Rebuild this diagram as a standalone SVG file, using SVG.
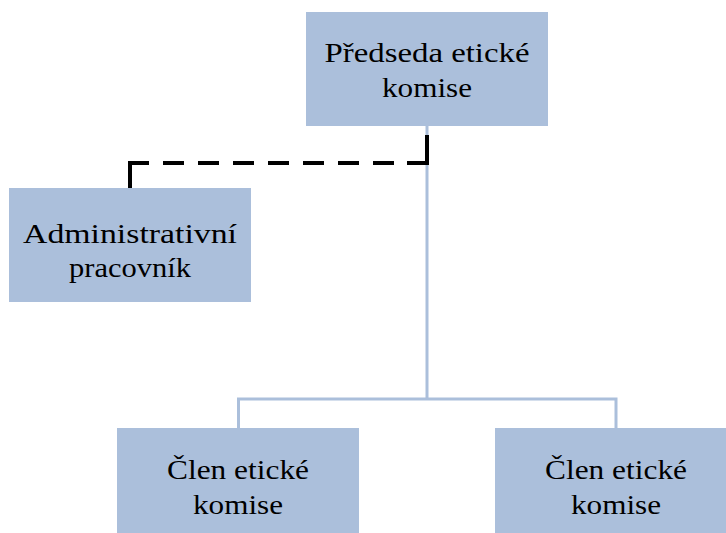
<svg xmlns="http://www.w3.org/2000/svg" width="726" height="533" viewBox="0 0 726 533">
<style>
.box{fill:#ABBFDB;}
.lbl{font-family:"Liberation Serif","DejaVu Serif",serif;font-size:28px;fill:#000;text-anchor:middle;}
.conn{fill:none;stroke:#ABBFDB;stroke-width:3;}
.dash{fill:none;stroke:#000;stroke-width:4;stroke-linecap:butt;stroke-linejoin:miter;}
</style>
<rect width="726" height="533" fill="#fff"/>
<g id="connectors">
<path class="conn" d="M427,126 V399 M238.5,428 V399 H616 V428"/>
<path class="dash" d="M130,188 V163 H149"/>
<path class="dash" d="M163,163 H394" stroke-dasharray="21 14"/>
<path class="dash" d="M407,163 H427 V135"/>
</g>
<g id="predseda">
<rect class="box" x="306" y="12" width="242" height="114"/>
<text class="lbl" x="427" y="61.5" textLength="205" lengthAdjust="spacingAndGlyphs">Předseda etické</text>
<text class="lbl" x="427" y="96.5" textLength="90" lengthAdjust="spacingAndGlyphs">komise</text>
</g>
<g id="admin">
<rect class="box" x="9" y="188" width="242" height="114"/>
<text class="lbl" x="130" y="243" textLength="214" lengthAdjust="spacingAndGlyphs">Administrativní</text>
<text class="lbl" x="130" y="277" textLength="122" lengthAdjust="spacingAndGlyphs">pracovník</text>
</g>
<g id="clen1">
<rect class="box" x="117" y="428" width="242" height="114"/>
<text class="lbl" x="238" y="478.5" textLength="142" lengthAdjust="spacingAndGlyphs">Člen etické</text>
<text class="lbl" x="238" y="513.5" textLength="90" lengthAdjust="spacingAndGlyphs">komise</text>
</g>
<g id="clen2">
<rect class="box" x="495" y="428" width="242" height="114"/>
<text class="lbl" x="616" y="478.5" textLength="142" lengthAdjust="spacingAndGlyphs">Člen etické</text>
<text class="lbl" x="616" y="513.5" textLength="90" lengthAdjust="spacingAndGlyphs">komise</text>
</g>
</svg>
